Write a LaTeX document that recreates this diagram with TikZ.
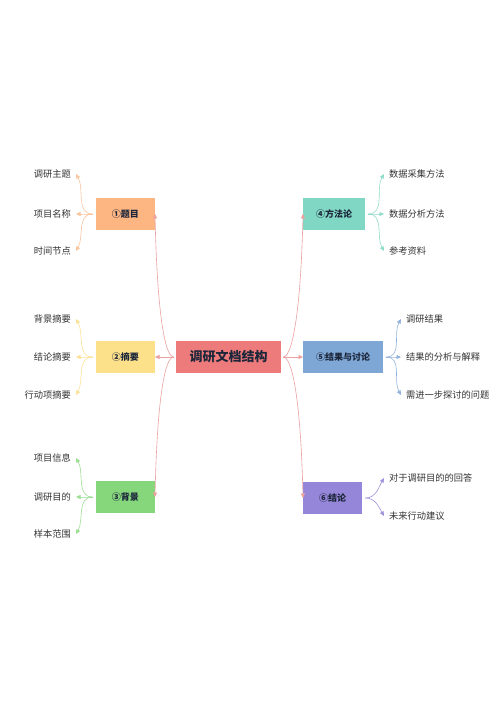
\documentclass[tikz,border=0pt]{standalone}
\usepackage{fontspec}
\setmainfont{Noto Sans CJK SC}
\usetikzlibrary{arrows.meta}
\definecolor{rootred}{RGB}{238,123,123}
\definecolor{rootline}{RGB}{236,160,160}
\definecolor{torange}{RGB}{253,181,130}
\definecolor{lorange}{RGB}{250,196,158}
\definecolor{tyellow}{RGB}{253,224,138}
\definecolor{lyellow}{RGB}{252,226,150}
\definecolor{tgreen}{RGB}{134,214,124}
\definecolor{lgreen}{RGB}{156,222,146}
\definecolor{tteal}{RGB}{128,216,196}
\definecolor{lteal}{RGB}{146,220,202}
\definecolor{tblue}{RGB}{126,167,214}
\definecolor{lblue}{RGB}{146,180,220}
\definecolor{tpurple}{RGB}{150,134,218}
\definecolor{lpurple}{RGB}{160,148,218}
\definecolor{labelink}{RGB}{28,38,58}
\definecolor{leafink}{RGB}{51,51,51}
\begin{document}
\begin{tikzpicture}[x=1pt,y=1pt,
  topic/.style={minimum width=59pt, minimum height=32pt, inner xsep=13pt,
    font=\fontsize{9}{11}\selectfont\bfseries, text=labelink},
  leaf/.style={inner xsep=5pt, font=\fontsize{9.25}{11}\selectfont, text=leafink},
  link/.style={->, >={Triangle[length=4.5pt,width=4pt]}, line width=0.6pt}]
\useasboundingbox (0,0) rectangle (500,707);
\fill[white] (0,0) rectangle (500,707);
% centre and the six topics
\node[topic, fill=rootred, minimum width=105pt, font=\fontsize{13}{15}\selectfont\bfseries] (root) at (228.5,350) {调研文档结构};
\node[topic, fill=torange, anchor=east] (t1) at (155,493) {①题目};
\node[topic, fill=tyellow, anchor=east] (t2) at (155,350) {②摘要};
\node[topic, fill=tgreen, anchor=east] (t3) at (155,210) {③背景};
\node[topic, fill=tteal, anchor=west] (t4) at (303,493) {④方法论};
\node[topic, fill=tblue, anchor=west] (t5) at (303,350) {⑤结果与讨论};
\node[topic, fill=tpurple, anchor=west] (t6) at (303,209) {⑥结论};
\draw[link, rootline] ([xshift=-2pt]root.west) .. controls +(-10,0) and +(2,-90) .. (t1.east);
\draw[link, rootline] ([xshift=-2pt]root.west) -- (t2.east);
\draw[link, rootline] ([xshift=-2pt]root.west) .. controls +(-10,0) and +(2,90) .. (t3.east);
\draw[link, rootline] ([xshift=2pt]root.east) .. controls +(10,0) and +(-2,-90) .. (t4.west);
\draw[link, rootline] ([xshift=2pt]root.east) -- (t5.west);
\draw[link, rootline] ([xshift=2pt]root.east) .. controls +(10,0) and +(-2,90) .. (t6.west);
% left leaves
\foreach \t/\y/\a [count=\i] in {调研主题/533/-60, 项目名称/493/0, 时间节点/456/60} {
  \node[leaf, anchor=east] (a\i) at (76,\y) {\t};
  \draw[link, lorange] ([xshift=-3pt]t1.west) to[out=180, in=\a] (a\i.east);
}
\foreach \t/\y/\a [count=\i] in {背景摘要/388/-60, 结论摘要/350/0, 行动项摘要/312/60} {
  \node[leaf, anchor=east] (b\i) at (76,\y) {\t};
  \draw[link, lyellow] ([xshift=-3pt]t2.west) to[out=180, in=\a] (b\i.east);
}
\foreach \t/\y/\a [count=\i] in {项目信息/249/-60, 调研目的/210/0, 样本范围/173/60} {
  \node[leaf, anchor=east] (c\i) at (76,\y) {\t};
  \draw[link, lgreen] ([xshift=-3pt]t3.west) to[out=180, in=\a] (c\i.east);
}
% right leaves
\foreach \t/\y/\a [count=\i] in {数据采集方法/533/-120, 数据分析方法/493/180, 参考资料/456/120} {
  \node[leaf, anchor=west] (d\i) at (384,\y) {\t};
  \draw[link, lteal] ([xshift=3pt]t4.east) to[out=0, in=\a] (d\i.west);
}
\foreach \t/\y/\a [count=\i] in {调研结果/388/-120, 结果的分析与解释/350/180, 需进一步探讨的问题/312/120} {
  \node[leaf, anchor=west] (e\i) at (401,\y) {\t};
  \draw[link, lblue] ([xshift=3pt]t5.east) to[out=0, in=\a] (e\i.west);
}
\foreach \t/\y/\a [count=\i] in {对于调研目的的回答/229/-120, 未来行动建议/191/120} {
  \node[leaf, anchor=west] (f\i) at (384,\y) {\t};
  \draw[link, lpurple] ([xshift=3pt]t6.east) to[out=0, in=\a] (f\i.west);
}
\end{tikzpicture}
\end{document}
